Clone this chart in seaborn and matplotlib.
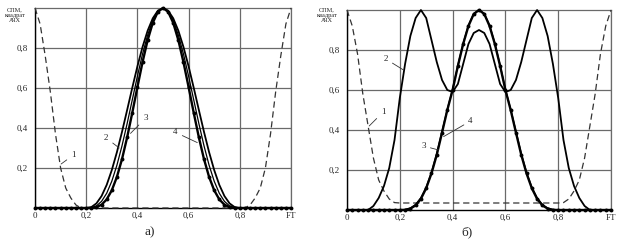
import numpy as np
import pandas as pd
import matplotlib
matplotlib.use("Agg")
import matplotlib.pyplot as plt
import seaborn as sns

sns.set_style("white")
plt.rcParams['font.family'] = ['Liberation Serif', 'DejaVu Serif']

# abscissa samples (FT), step 0.02
ft = np.round(np.linspace(0.0, 1.0, 51), 2)

# ---- panel a) ----
a_curve1 = [1.00, 0.92, 0.76, 0.58, 0.37, 0.20, 0.10, 0.05, 0.015] + [0.0] * 33 + \
           [0.015, 0.05, 0.10, 0.20, 0.37, 0.58, 0.76, 0.92, 1.00]
_a2 = [0.0044, 0.0231, 0.0597, 0.1154, 0.1896, 0.2793, 0.3813, 0.4904, 0.6013,
       0.7081, 0.8049, 0.8866, 0.9484, 0.9869]
_a3 = [0.0014, 0.0105, 0.0332, 0.0736, 0.1340, 0.2141, 0.3119, 0.4227, 0.5408,
       0.6589, 0.7694, 0.8647, 0.9379, 0.9842]
_a4 = [0.0004, 0.0041, 0.0164, 0.0429, 0.0884, 0.1556, 0.2451, 0.3538, 0.4763,
       0.6044, 0.7288, 0.8390, 0.9256, 0.9810]
a_curve2 = [0.0] * 11 + _a2 + [1.0] + _a2[::-1] + [0.0] * 11
a_curve3 = [0.0] * 11 + _a3 + [1.0] + _a3[::-1] + [0.0] * 11
a_curve4 = [0.0] * 11 + _a4 + [1.0] + _a4[::-1] + [0.0] * 11

# ---- panel б) ----
b_curve1 = [1.00, 0.92, 0.78, 0.58, 0.42, 0.26, 0.15, 0.095, 0.055, 0.037] + [0.035] * 31 + \
           [0.037, 0.055, 0.095, 0.15, 0.26, 0.42, 0.58, 0.78, 0.92, 1.00]
_b2 = [0.02, 0.06, 0.12, 0.21, 0.35, 0.56, 0.73, 0.87, 0.96, 1.00, 0.96, 0.85,
       0.74, 0.65, 0.60, 0.59, 0.63, 0.73, 0.83, 0.885]
b_curve2 = [0.0] * 5 + _b2 + [0.90] + _b2[::-1] + [0.0] * 5
_b3 = [0.002, 0.010, 0.028, 0.062, 0.115, 0.19, 0.285, 0.395, 0.505, 0.605,
       0.725, 0.835, 0.925, 0.982]
_b4 = [0.001, 0.007, 0.023, 0.056, 0.109, 0.183, 0.276, 0.387, 0.50, 0.60,
       0.72, 0.83, 0.92, 0.98]
b_curve3 = [0.0] * 11 + _b3 + [1.0] + _b3[::-1] + [0.0] * 11
b_curve4 = [0.0] * 11 + _b4 + [1.0] + _b4[::-1] + [0.0] * 11

xtick_vals = [0.0, 0.2, 0.4, 0.6, 0.8, 1.0]
xtick_labels = ["0", "0,2", "0,4", "0,6", "0,8", "FT"]
ytick_vals = [0.2, 0.4, 0.6, 0.8]
ytick_labels = ["0,2", "0,4", "0,6", "0,8"]
ytitle = "СПМ,\nквадрат\nАЧХ"

# label annotations: (text, text position, leader end)
a_labels = [("1", (0.150, 0.265), (0.102, 0.22)),
            ("2", (0.278, 0.35), (0.329, 0.30)),
            ("3", (0.431, 0.448), (0.373, 0.373)),
            ("4", (0.549, 0.378), (0.634, 0.327))]
b_labels = [("1", (0.137, 0.49), (0.084, 0.42)),
            ("2", (0.147, 0.755), (0.214, 0.70)),
            ("3", (0.290, 0.32), (0.347, 0.30)),
            ("4", (0.468, 0.445), (0.366, 0.367))]

fig = plt.figure(figsize=(6.24, 2.48), dpi=100)
ax_a = fig.add_axes([35 / 624, 1 - 208 / 248, 256 / 624, 200 / 248])
ax_b = fig.add_axes([347 / 624, 1 - 210 / 248, 264 / 624, 200 / 248])

grid_col = "#6a6a6a"


def draw(ax, c1, c2, c3, c4, labels, caption, cap_x, title_x):
    df = pd.DataFrame({"ft": ft, "c1": c1, "c2": c2, "c3": c3, "c4": c4})
    sns.lineplot(data=df, x="ft", y="c1", ax=ax, color="#333333", lw=0.9,
                 linestyle=(0, (5, 3)), clip_on=False, zorder=3)
    sns.lineplot(data=df, x="ft", y="c2", ax=ax, color="black", lw=1.3,
                 clip_on=False, zorder=4)
    sns.lineplot(data=df, x="ft", y="c3", ax=ax, color="black", lw=0.9,
                 clip_on=False, zorder=4)
    sns.lineplot(data=df, x="ft", y="c4", ax=ax, color="black", lw=1.7,
                 marker="o", markersize=2.8, markeredgewidth=0,
                 clip_on=False, zorder=5)
    ax.set_xlim(0, 1.0)
    ax.set_ylim(0, 1.0)
    ax.set_xticks(xtick_vals)
    ax.set_xticklabels(xtick_labels)
    ax.set_yticks(ytick_vals)
    ax.set_yticklabels(ytick_labels)
    ax.tick_params(length=0, labelsize=6.5, pad=3)
    ax.tick_params(axis="y", pad=5)
    ax.set_xlabel("")
    ax.set_ylabel("")
    ax.grid(True, color=grid_col, lw=0.9)
    ax.set_axisbelow(True)
    for s in ["left", "bottom"]:
        ax.spines[s].set_color("black")
        ax.spines[s].set_linewidth(1.0)
    for s in ["top", "right"]:
        ax.spines[s].set_color(grid_col)
        ax.spines[s].set_linewidth(0.9)
    for txt, tpos, end in labels:
        ax.annotate(txt, xy=end, xytext=tpos, fontsize=6.5, ha="center", va="center",
                    arrowprops=dict(arrowstyle="-", lw=0.6, color="#333333",
                                    shrinkA=1, shrinkB=0), zorder=6)
    fig.text(cap_x / 624, 1 - 232 / 248, caption, fontsize=9.5, ha="center", va="center")
    fig.text(title_x / 624, 1 - 15 / 248, ytitle, fontsize=4.5, ha="center", va="center",
             linespacing=1.1)


draw(ax_a, a_curve1, a_curve2, a_curve3, a_curve4, a_labels, "а)", 150, 15)
draw(ax_b, b_curve1, b_curve2, b_curve3, b_curve4, b_labels, "б)", 467, 327)

fig.savefig("out.png", dpi=100)
